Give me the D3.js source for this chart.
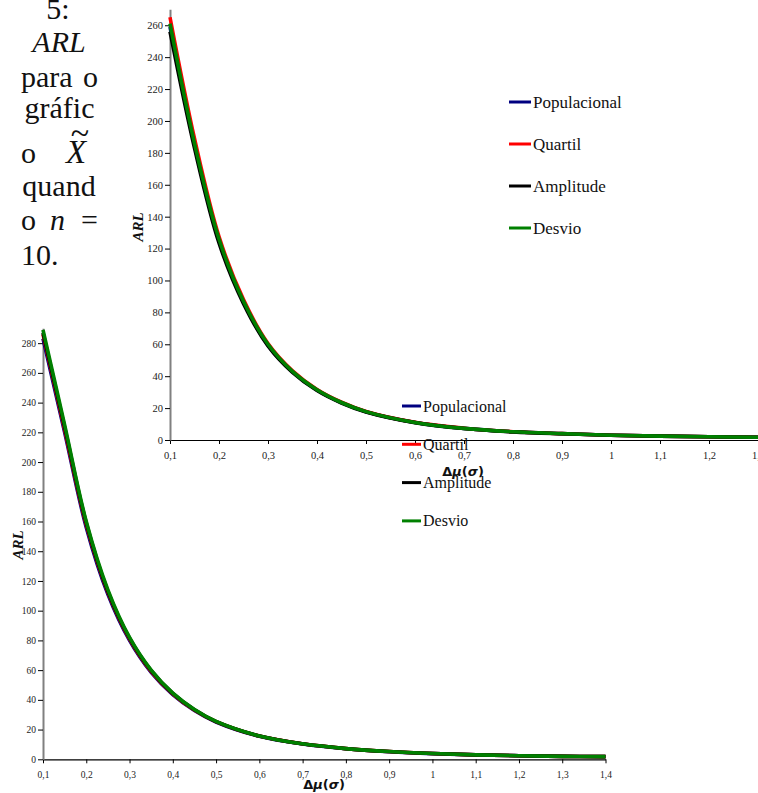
<!DOCTYPE html>
<html lang="pt">
<head>
<meta charset="UTF-8">
<title>ARL para o gráfico X̃</title>
<script src="https://d3js.org/d3.v7.min.js"></script>
<style>
    body { margin: 0; background: #fff; }
    svg { display: block; }
    .tick text { fill: #222; font-family: "Liberation Serif", "Times New Roman", serif; }
    .tick line { stroke: #000; }
    .y-axis .domain { stroke: #808080; stroke-width: 2; }
    .x-axis .domain { stroke: #000; stroke-width: 1.2; }
    .serif { font-family: "Liberation Serif", "Times New Roman", serif; fill: #111; }
</style>
</head>
<body>
<script>
// shift sizes on the x axis
const deltas = [0.1, 0.15, 0.2, 0.25, 0.3, 0.35, 0.4, 0.45, 0.5, 0.6, 0.7, 0.8, 0.9, 1.0, 1.1, 1.2, 1.3, 1.4];
const xTicks = [0.1, 0.2, 0.3, 0.4, 0.5, 0.6, 0.7, 0.8, 0.9, 1.0, 1.1, 1.2, 1.3, 1.4];

const seriesNames = ["Populacional", "Quartil", "Amplitude", "Desvio"];
const seriesColors = ["#000080", "#ff0000", "#000000", "#008000"];

// upper chart
const topYTicks = [0, 20, 40, 60, 80, 100, 120, 140, 160, 180, 200, 220, 240, 260];
const topPopulacional = [259, 185, 125, 86.5, 59.5, 42.8, 31.3, 23.4, 17.7, 11, 7.3, 5.2, 4.0, 3.0, 2.4, 2.0, 1.7, 1.5];
const topQuartil      = [265, 189, 127.5, 88, 60.5, 43.4, 31.7, 23.7, 17.9, 11.1, 7.4, 5.2, 4.0, 3.0, 2.4, 2.0, 1.7, 1.5];
const topAmplitude    = [256, 183, 123.5, 85.5, 59, 42.4, 31, 23.2, 17.6, 10.9, 7.2, 5.1, 3.9, 3.0, 2.4, 2.0, 1.7, 1.5];
const topDesvio       = [261, 186, 126, 87, 60, 43, 31.5, 23.5, 17.8, 11, 7.3, 5.2, 4.0, 3.0, 2.4, 2.0, 1.7, 1.5];

// lower chart
const botYTicks = [0, 20, 40, 60, 80, 100, 120, 140, 160, 180, 200, 220, 240, 260, 280];
const botPopulacional = [283, 220, 156, 111, 80, 58.5, 43.5, 32.8, 25.1, 15.5, 10.3, 7.1, 5.1, 3.8, 3.0, 2.4, 2.0, 1.8];
const botQuartil      = [286, 222, 158, 112.5, 81, 59.2, 44, 33.1, 25.3, 15.6, 10.4, 7.2, 5.2, 3.9, 3.0, 2.4, 2.0, 1.8];
const botAmplitude    = [287, 223.5, 159, 113, 81.5, 59.6, 44.3, 33.3, 25.4, 15.7, 10.4, 7.2, 5.2, 3.9, 3.0, 2.4, 2.0, 1.8];
const botDesvio       = [289, 225, 160, 114, 82, 60, 44.5, 33.5, 25.5, 15.7, 10.4, 7.2, 5.2, 3.9, 3.0, 2.4, 2.0, 1.8];

const svg = d3.select("body").append("svg")
    .attr("width", 758)
    .attr("height", 793);

const fmtX = d => String(Math.round(d * 10) / 10).replace(".", ",");

function drawChart(o) {
    const g = svg.append("g");

    const x = d3.scaleLinear().domain([0.1, 1.4]).range(o.xRange);
    const y = d3.scaleLinear().domain([0, o.yMax]).range(o.yRange);

    g.append("g")
        .attr("class", "x-axis")
        .attr("transform", `translate(0,${o.yRange[0]})`)
        .call(d3.axisBottom(x).tickValues(xTicks).tickFormat(fmtX).tickSize(4).tickSizeOuter(0).tickPadding(o.xPad))
        .call(a => a.selectAll("text").style("font-size", o.tickFont + "px"));

    g.append("g")
        .attr("class", "y-axis")
        .attr("transform", `translate(${o.xRange[0]},0)`)
        .call(d3.axisLeft(y).tickValues(o.yTicks).tickFormat(d3.format("d")).tickSize(5).tickSizeOuter(0).tickPadding(2))
        .call(a => a.selectAll("text").style("font-size", o.tickFont + "px"));

    const line = d3.line()
        .x((d, i) => x(deltas[i]))
        .y(d => y(d))
        .curve(d3.curveCatmullRom.alpha(0.5));

    o.series.forEach((vals, i) => {
        g.append("path")
            .datum(vals)
            .attr("fill", "none")
            .attr("stroke", seriesColors[i])
            .attr("stroke-width", 3.6)
            .attr("d", line);
    });

    // y title
    g.append("text")
        .attr("class", "serif")
        .attr("transform", `translate(${o.yTitle[0]},${o.yTitle[1]}) rotate(-90)`)
        .attr("text-anchor", "middle")
        .style("font-size", "15px")
        .style("font-weight", "bold")
        .style("font-style", "italic")
        .text("ARL");

    // x title
    const xt = g.append("text")
        .attr("x", o.xTitle[0])
        .attr("y", o.xTitle[1])
        .attr("text-anchor", "middle")
        .style("font-family", "DejaVu Sans, sans-serif")
        .style("font-size", "13px")
        .style("font-weight", "bold")
        .style("fill", "#111");
    xt.append("tspan").text("Δ");
    xt.append("tspan").style("font-style", "italic").text("μ");
    xt.append("tspan").text("(");
    xt.append("tspan").style("font-style", "italic").text("σ");
    xt.append("tspan").text(")");

    // legend
    const lg = g.append("g").attr("transform", `translate(${o.legend[0]},${o.legend[1]})`);
    seriesNames.forEach((name, i) => {
        const row = lg.append("g").attr("transform", `translate(0,${i * o.legendStep})`);
        row.append("line")
            .attr("x1", 0).attr("x2", o.legendLine)
            .attr("y1", 0).attr("y2", 0)
            .attr("stroke", seriesColors[i])
            .attr("stroke-width", 3);
        row.append("text")
            .attr("class", "serif")
            .attr("x", o.legendLine + 2)
            .attr("y", 5.5)
            .style("font-size", o.legendFont + "px")
            .text(name);
    });
}

drawChart({
    xRange: [170, 807], yRange: [440, 9.3], yMax: 270, yTicks: topYTicks,
    series: [topPopulacional, topQuartil, topAmplitude, topDesvio],
    tickFont: 10.5, xPad: 8,
    yTitle: [143, 227], xTitle: [463, 476],
    legend: [509, 102], legendStep: 42, legendLine: 22, legendFont: 17
});

drawChart({
    xRange: [43, 605.5], yRange: [759.3, 328.3], yMax: 290, yTicks: botYTicks,
    series: [botPopulacional, botQuartil, botAmplitude, botDesvio],
    tickFont: 9.5, xPad: 8,
    yTitle: [23, 545], xTitle: [324, 789],
    legend: [402, 406], legendStep: 38.3, legendLine: 19, legendFont: 16
});

// caption text on the left
const cap = svg.append("g").attr("class", "serif").style("font-size", "30px");
cap.append("text").attr("class", "serif").attr("x", 58).attr("y", 19).attr("text-anchor", "middle").text("5:");
cap.append("text").attr("class", "serif").attr("x", 59).attr("y", 52).attr("text-anchor", "middle").style("font-style", "italic").text("ARL");
cap.append("text").attr("class", "serif").attr("x", 21).attr("y", 87).text("para");
cap.append("text").attr("class", "serif").attr("x", 98).attr("y", 87).attr("text-anchor", "end").text("o");
cap.append("text").attr("class", "serif").attr("x", 59.5).attr("y", 118).attr("text-anchor", "middle").text("gráfic");
cap.append("text").attr("class", "serif").attr("x", 21).attr("y", 163).text("o");
cap.append("text").attr("class", "serif").attr("x", 66).attr("y", 163).style("font-size", "33px").style("font-style", "italic").text("X");
cap.append("text").attr("class", "serif").attr("x", 80).attr("y", 144).attr("text-anchor", "middle").style("font-size", "34px").text("~");
cap.append("text").attr("class", "serif").attr("x", 59).attr("y", 196).attr("text-anchor", "middle").text("quand");
cap.append("text").attr("class", "serif").attr("x", 21).attr("y", 230).text("o");
cap.append("text").attr("class", "serif").attr("x", 50).attr("y", 230).style("font-style", "italic").text("n");
cap.append("text").attr("class", "serif").attr("x", 98).attr("y", 230).attr("text-anchor", "end").text("=");
cap.append("text").attr("class", "serif").attr("x", 21).attr("y", 265).text("10.");
</script>
</body>
</html>
